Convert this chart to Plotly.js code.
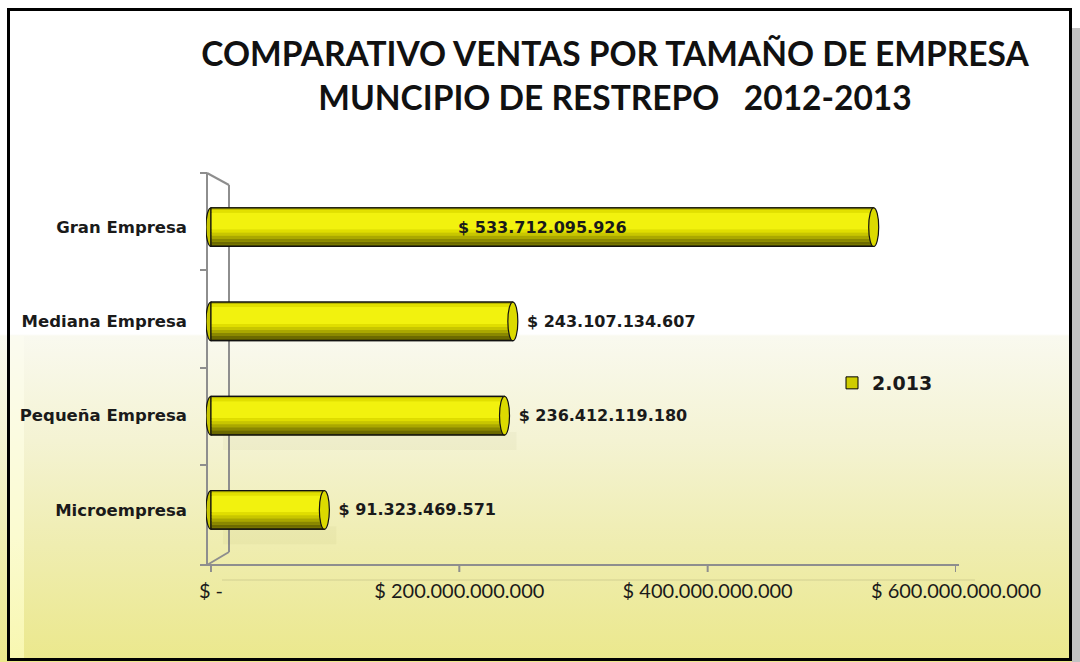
<!DOCTYPE html>
<html>
<head>
<meta charset="utf-8">
<script src="https://cdn.plot.ly/plotly-3.0.1.min.js"></script>
<style>
  html, body { margin: 0; padding: 0; background: #ffffff; }
  #wrap { position: relative; width: 1080px; height: 662px; overflow: hidden;
    background: linear-gradient(to bottom, #ffffff 0px, #ffffff 334px, #f9f9ef 336px, #f4f3d3 440px, #efedb0 545px, #ebe88c 662px); }
  #leftstrip { position: absolute; left: 10px; top: 336px; width: 14px; height: 324px;
    background: linear-gradient(to bottom, #fbfbf0 0px, #fbfbd0 200px, #f8f7b0 324px); }
  #chart { position: absolute; left: 0; top: 0; width: 1080px; height: 662px; }
  #frame { position: absolute; left: 7px; top: 8px; width: 1065px; height: 653px; box-sizing: border-box;
    border: 3px solid #000; pointer-events: none; }
  #shadow { position: absolute; left: 1072px; top: 28px; width: 8px; height: 634px; background: #c2c2c2; }
</style>
</head>
<body>
<div id="wrap">
  <div id="leftstrip"></div>
  <div id="chart"></div>
  <div id="frame"></div>
  <div id="shadow"></div>
</div>
<script>
// ---- data ----
const categories = ["Microempresa", "Pequeña Empresa", "Mediana Empresa", "Gran Empresa"];
const ventas2013 = [91323469571, 236412119180, 243107134607, 533712095926];
const valueLabels = ["$ 91.323.469.571", "$ 236.412.119.180", "$ 243.107.134.607", "$ 533.712.095.926"];
const labelPositions = ["outside", "outside", "outside", "inside"];
const tickValues = [0, 200e9, 400e9, 600e9];
const tickLabels = ["$ -", "$ 200.000.000.000", "$ 400.000.000.000", "$ 600.000.000.000"];
const seriesName = "2.013";
const titleText = "COMPARATIVO VENTAS POR TAMAÑO DE EMPRESA<br>MUNCIPIO DE RESTREPO\u00a0\u00a0\u00a02012-2013";

// ---- layout geometry ----
const W = 1080, H = 662;
const M = { l: 206, r: 124, t: 180, b: 105 };
const PW = W - M.l - M.r, PH = H - M.t - M.b;
const px = v => (v - M.l) / PW;
const py = v => (H - M.b - v) / PH;
const catPx = PH / categories.length;

const BAR_W = 0.41;
const half = BAR_W / 2;
const grey = "#8e8e8e";
const textCol = "#1a1a1a";

// cylinder shading bands in pixels from the bar top: [start, end, color]
const bandsPx = [
  [0, 2, "#b4b200"],
  [2, 5, "#e2e000"],
  [5, 22, "#f2f20e"],
  [22, 25, "#e0de00"],
  [25, 28, "#c8c600"],
  [28, 31, "#aaa800"],
  [31, 34, "#8a8800"],
  [34, 37, "#6c6a00"],
  [37, 39, "#4e4c00"]
];

const traces = [];
traces.push({
  type: "bar", orientation: "h", name: seriesName,
  x: ventas2013, y: categories,
  width: BAR_W, offset: -half,
  marker: { color: "#cfcd00", line: { color: "#000", width: 1 } },
  hoverinfo: "skip", showlegend: true
});
bandsPx.forEach(b => {
  traces.push({
    type: "bar", orientation: "h", name: seriesName,
    x: ventas2013, y: categories,
    width: (b[1] - b[0]) / catPx, offset: half - b[1] / catPx,
    marker: { color: b[2], line: { width: 0 } },
    hoverinfo: "skip", showlegend: false
  });
});
traces.push({
  type: "bar", orientation: "h", name: seriesName,
  x: ventas2013, y: categories,
  width: BAR_W, offset: -half,
  marker: { color: "rgba(0,0,0,0)", line: { color: "#111", width: 1.2 } },
  text: valueLabels, textposition: labelPositions, insidetextanchor: "middle",
  texttemplate: labelPositions.map(p => p === "outside" ? "\u00a0\u00a0%{text}" : "%{text}"),
  textangle: 0, constraintext: "none", cliponaxis: false,
  textfont: { family: "DejaVu Sans", size: 16, color: textCol, weight: "bold" },
  hoverinfo: "skip", showlegend: false
});

const xRange = [-4e9, 600e9];
const unitPerPx = (xRange[1] - xRange[0]) / PW;
const capHalf = 5 * unitPerPx;

const shapes = [];
const line = (x0, y0, x1, y1) => ({
  type: "line", xref: "paper", yref: "paper", layer: "below",
  x0: px(x0), y0: py(y0), x1: px(x1), y1: py(y1),
  line: { color: grey, width: 2 }
});
shapes.push(line(207, 173, 207, 565));
shapes.push(line(207, 173, 229, 185));
shapes.push(line(229, 185, 229, 552));
shapes.push(line(229, 552, 207, 565));
shapes.push(line(207, 565, 959, 565));
[173, 270, 368, 465, 565].forEach(y => shapes.push(line(200, y, 207, y)));
tickValues.forEach(v => shapes.push({
  type: "line", xref: "x", yref: "paper", layer: "below",
  x0: v, x1: v, y0: py(565), y1: py(572), line: { color: grey, width: 2 }
}));
// faint reflected floor
shapes.push({ type: "line", xref: "paper", yref: "paper", layer: "below",
  x0: px(222), y0: py(580), x1: px(975), y1: py(580), line: { color: "rgba(0,0,0,0.06)", width: 2 } });
// faint reflected bar shadows in the glossy lower half
[0, 1].forEach(i => shapes.push({
  type: "rect", xref: "x", yref: "y", layer: "below",
  x0: 12 * unitPerPx, x1: ventas2013[i] + 12 * unitPerPx,
  y0: i - half - 0.16, y1: i - half + 0.03,
  fillcolor: "rgba(90,90,0,0.035)", line: { width: 0 }
}));
// cylinder caps
ventas2013.forEach((v, i) => {
  shapes.push({
    type: "circle", xref: "x", yref: "y", layer: "below",
    x0: -capHalf, x1: capHalf, y0: i - half, y1: i + half,
    fillcolor: "#c8c600", line: { color: "#111", width: 1.2 }
  });
  shapes.push({
    type: "circle", xref: "x", yref: "y", layer: "above",
    x0: v - capHalf, x1: v + capHalf, y0: i - half, y1: i + half,
    fillcolor: "#dcda00", line: { color: "#111", width: 1.2 }
  });
});

const layout = {
  width: W, height: H,
  margin: M,
  paper_bgcolor: "rgba(0,0,0,0)", plot_bgcolor: "rgba(0,0,0,0)",
  barmode: "overlay",
  title: {
    text: titleText, xref: "container", yref: "container",
    x: 615 / W, xanchor: "center", y: 1 - 66 / H, yanchor: "top",
    font: { family: "Lato", size: 33.5, color: "#111", weight: "bold" }
  },
  xaxis: {
    range: xRange, showgrid: false, zeroline: false, showline: false,
    tickvals: tickValues, ticktext: tickLabels, ticks: "",
    ticklabelstandoff: 20,
    tickfont: { family: "Lato", size: 20, color: textCol },
    fixedrange: true
  },
  yaxis: {
    type: "category", range: [-0.5, 3.5],
    showgrid: false, zeroline: false, showline: false, ticks: "",
    ticklabelstandoff: 18,
    tickfont: { family: "DejaVu Sans", size: 16.5, color: textCol, weight: "bold" },
    fixedrange: true
  },
  showlegend: true,
  legend: {
    x: px(832), y: py(383), xref: "paper", yref: "paper",
    xanchor: "left", yanchor: "middle", bgcolor: "rgba(0,0,0,0)",
    font: { family: "DejaVu Sans", size: 19, color: textCol, weight: "bold" }
  },
  shapes: shapes
};

Plotly.newPlot("chart", traces, layout, { staticPlot: true, displayModeBar: false });
</script>
</body>
</html>
